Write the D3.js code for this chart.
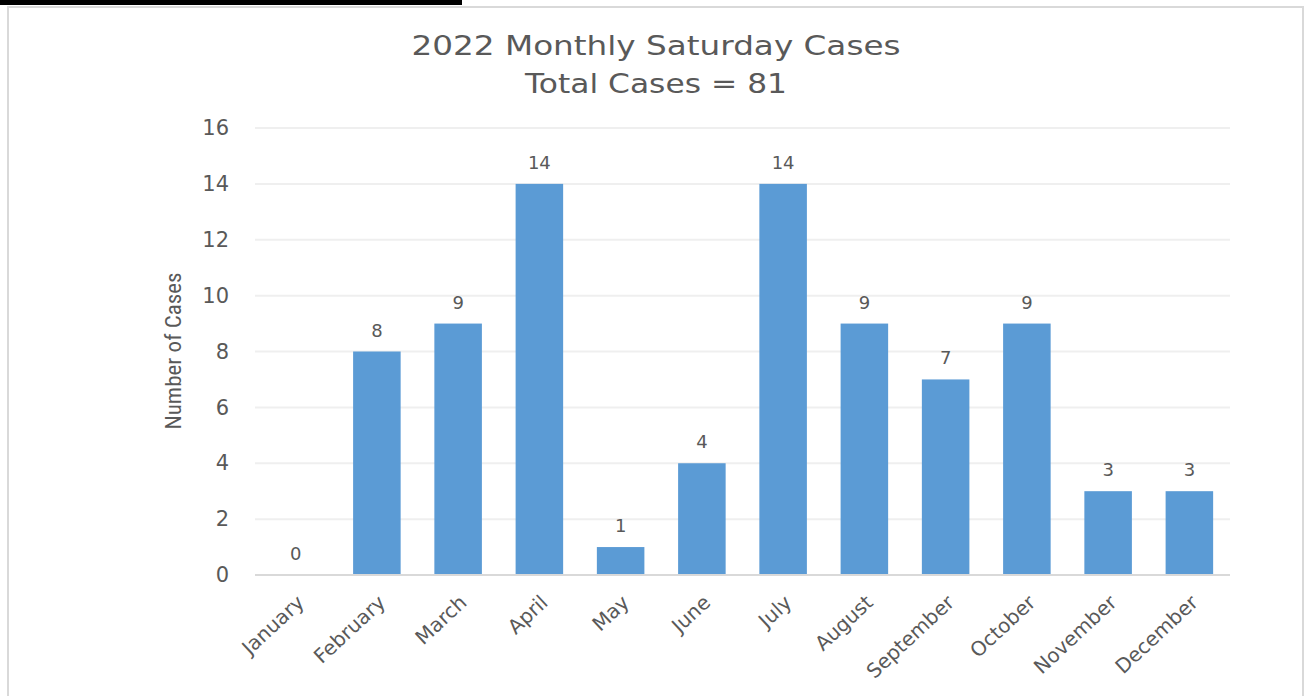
<!DOCTYPE html>
<html>
<head>
<meta charset="utf-8">
<script src="https://cdn.jsdelivr.net/npm/d3@7"></script>
<style>
  body { margin: 0; background: #fff; }
  svg { display: block; }
</style>
</head>
<body>
<div id="graph"></div>
<script>
var months = ['January', 'February', 'March', 'April', 'May', 'June', 'July',
              'August', 'September', 'October', 'November', 'December']
var cases = [0, 8, 9, 14, 1, 4, 14, 9, 7, 9, 3, 3]
var yTicks = [0, 2, 4, 6, 8, 10, 12, 14, 16]
var titleLines = ['2022 Monthly Saturday Cases', 'Total Cases = 81']

var width = 1305, height = 696
var plotLeft = 255, plotRight = 1230, plotTop = 128, plotBottom = 575
var grey = '#595959'
var font = '"DejaVu Sans", sans-serif'

var svg = d3.select('#graph').append('svg')
    .attr('width', width)
    .attr('height', height)

// frame of the chart + black bar cut off at the top
svg.append('rect')
    .attr('x', 8).attr('y', 7).attr('width', 1295).attr('height', 700)
    .attr('fill', 'none').attr('stroke', '#d9d9d9').attr('stroke-width', 2)
svg.append('rect')
    .attr('x', 0).attr('y', 0).attr('width', 462).attr('height', 5)
    .attr('fill', '#000')

var x = d3.scaleBand()
    .domain(months)
    .range([plotLeft, plotRight])
    .paddingInner(0.415)
    .paddingOuter(0.2075)

var y = d3.scaleLinear()
    .domain([0, 16])
    .range([plotBottom, plotTop])

// gridlines
svg.append('g')
  .selectAll('line')
  .data(yTicks.filter(function(d){ return d > 0 }))
  .enter().append('line')
    .attr('x1', plotLeft).attr('x2', plotRight)
    .attr('y1', function(d){ return y(d) })
    .attr('y2', function(d){ return y(d) })
    .attr('stroke', '#efefef').attr('stroke-width', 2)

// y axis labels
var yAxis = svg.append('g')
    .attr('transform', 'translate(' + (plotLeft - 23) + ',0)')
    .call(d3.axisLeft(y).tickValues(yTicks).tickSize(0).tickPadding(3))
yAxis.select('.domain').remove()
yAxis.selectAll('text')
    .attr('fill', grey)
    .style('font-family', font)
    .style('font-size', '21px')

// bars
svg.append('g')
  .selectAll('rect')
  .data(cases)
  .enter().append('rect')
    .attr('x', function(d, i){ return x(months[i]) })
    .attr('width', x.bandwidth())
    .attr('y', function(d){ return y(d) })
    .attr('height', function(d){ return y(0) - y(d) })
    .attr('fill', '#5b9bd5')

// data labels
svg.append('g')
  .selectAll('text')
  .data(cases)
  .enter().append('text')
    .attr('x', function(d, i){ return x(months[i]) + x.bandwidth() / 2 })
    .attr('y', function(d){ return y(d) - 15 })
    .attr('text-anchor', 'middle')
    .attr('fill', grey)
    .style('font-family', font)
    .style('font-size', '18px')
    .text(function(d){ return d })

// x axis line
svg.append('line')
    .attr('x1', plotLeft).attr('x2', plotRight)
    .attr('y1', plotBottom).attr('y2', plotBottom)
    .attr('stroke', '#d9d9d9').attr('stroke-width', 2)

// month labels
var xAxis = svg.append('g')
    .attr('transform', 'translate(0,' + plotBottom + ')')
    .call(d3.axisBottom(x).tickSize(0).tickPadding(0))
xAxis.select('.domain').remove()
xAxis.selectAll('text')
    .attr('fill', grey)
    .style('font-family', font)
    .style('font-size', '20px')
    .attr('text-anchor', 'end')
    .attr('dy', '0.35em')
    .attr('transform', 'translate(5,24) rotate(-43)')

// y axis title
svg.append('text')
    .attr('transform', 'translate(181,351) rotate(-90)')
    .attr('text-anchor', 'middle')
    .attr('fill', grey)
    .style('font-family', '"Liberation Sans Narrow", "Roboto Condensed", sans-serif')
    .style('font-size', '22px')
    .attr('textLength', 157)
    .attr('lengthAdjust', 'spacingAndGlyphs')
    .text('Number of Cases')

// title
var titleWidths = [489, 262]
svg.append('g')
  .selectAll('text')
  .data(titleLines)
  .enter().append('text')
    .attr('x', 656)
    .attr('y', function(d, i){ return 55 + i * 38 })
    .attr('text-anchor', 'middle')
    .attr('fill', grey)
    .style('font-family', font)
    .style('font-size', '27px')
    .attr('textLength', function(d, i){ return titleWidths[i] })
    .attr('lengthAdjust', 'spacingAndGlyphs')
    .text(function(d){ return d })
</script>
</body>
</html>
